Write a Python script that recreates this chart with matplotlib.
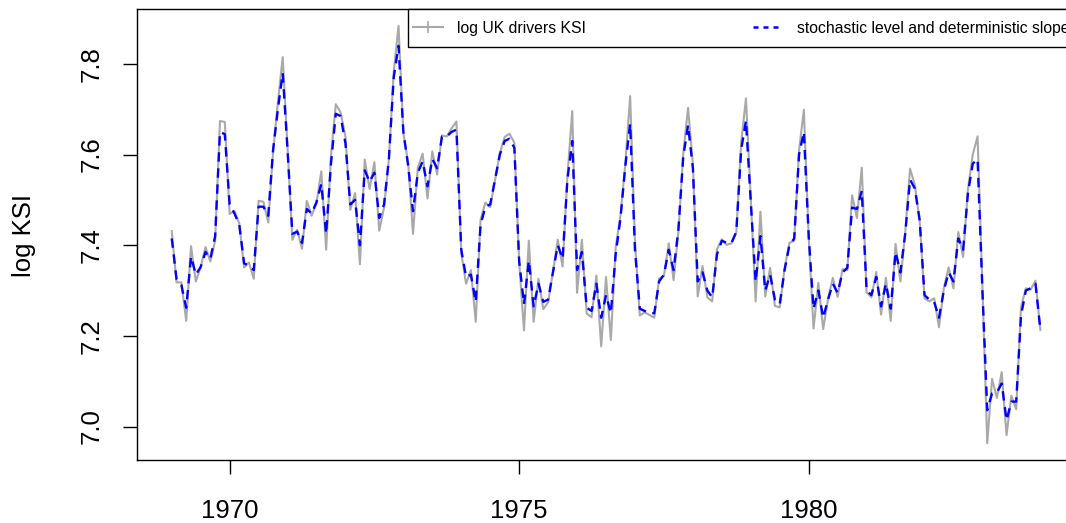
import numpy as np
import matplotlib.pyplot as plt
from matplotlib.lines import Line2D
from matplotlib.patches import Rectangle

plt.rcParams['font.family'] = ['Liberation Sans', 'DejaVu Sans']

# monthly series, Jan 1969 .. Jan 1984
start_year = 1969
log_ksi = [
    7.431, 7.318, 7.318, 7.233, 7.398, 7.320, 7.352, 7.396, 7.364, 7.410, 7.674, 7.672,
    7.469, 7.476, 7.448, 7.351, 7.362, 7.326, 7.498, 7.496, 7.450, 7.605, 7.715, 7.815,
    7.616, 7.412, 7.434, 7.392, 7.498, 7.465, 7.493, 7.563, 7.390, 7.597, 7.711, 7.693,
    7.640, 7.478, 7.515, 7.358, 7.589, 7.524, 7.583, 7.432, 7.483, 7.589, 7.782, 7.884,
    7.648, 7.582, 7.425, 7.571, 7.602, 7.503, 7.607, 7.556, 7.642, 7.640, 7.658, 7.673,
    7.383, 7.315, 7.345, 7.231, 7.456, 7.494, 7.484, 7.543, 7.603, 7.639, 7.646, 7.626,
    7.363, 7.212, 7.410, 7.231, 7.326, 7.259, 7.274, 7.341, 7.412, 7.353, 7.552, 7.696,
    7.295, 7.412, 7.249, 7.241, 7.333, 7.177, 7.330, 7.191, 7.395, 7.466, 7.580, 7.729,
    7.407, 7.245, 7.252, 7.246, 7.240, 7.326, 7.332, 7.404, 7.323, 7.429, 7.601, 7.703,
    7.579, 7.287, 7.354, 7.285, 7.276, 7.391, 7.413, 7.401, 7.404, 7.428, 7.626, 7.724,
    7.503, 7.276, 7.474, 7.287, 7.350, 7.266, 7.263, 7.349, 7.405, 7.410, 7.609, 7.699,
    7.418, 7.216, 7.317, 7.215, 7.281, 7.328, 7.286, 7.347, 7.345, 7.510, 7.460, 7.571,
    7.296, 7.285, 7.341, 7.247, 7.328, 7.233, 7.403, 7.320, 7.427, 7.569, 7.533, 7.454,
    7.283, 7.276, 7.283, 7.219, 7.305, 7.351, 7.305, 7.429, 7.374, 7.523, 7.600, 7.640,
    7.309, 6.963, 7.105, 7.063, 7.120, 6.981, 7.068, 7.038, 7.263, 7.305, 7.302, 7.322,
    7.213,
]
fitted = [
    7.415, 7.325, 7.312, 7.262, 7.375, 7.335, 7.352, 7.385, 7.370, 7.420, 7.650, 7.645,
    7.490, 7.470, 7.445, 7.360, 7.355, 7.345, 7.485, 7.485, 7.465, 7.610, 7.700, 7.780,
    7.610, 7.425, 7.430, 7.405, 7.480, 7.470, 7.495, 7.535, 7.425, 7.580, 7.690, 7.685,
    7.625, 7.490, 7.500, 7.400, 7.565, 7.540, 7.560, 7.460, 7.490, 7.590, 7.770, 7.840,
    7.650, 7.575, 7.475, 7.560, 7.585, 7.530, 7.590, 7.570, 7.640, 7.640, 7.650, 7.655,
    7.390, 7.330, 7.335, 7.275, 7.445, 7.485, 7.490, 7.545, 7.600, 7.630, 7.635, 7.615,
    7.365, 7.270, 7.366, 7.265, 7.315, 7.275, 7.280, 7.340, 7.400, 7.370, 7.545, 7.630,
    7.345, 7.385, 7.262, 7.255, 7.315, 7.240, 7.290, 7.250, 7.380, 7.460, 7.575, 7.668,
    7.390, 7.260, 7.255, 7.250, 7.250, 7.320, 7.335, 7.390, 7.345, 7.435, 7.595, 7.665,
    7.570, 7.320, 7.340, 7.300, 7.285, 7.380, 7.410, 7.405, 7.405, 7.430, 7.610, 7.675,
    7.495, 7.320, 7.420, 7.300, 7.335, 7.280, 7.270, 7.345, 7.400, 7.415, 7.600, 7.650,
    7.420, 7.260, 7.300, 7.240, 7.280, 7.315, 7.295, 7.340, 7.350, 7.483, 7.480, 7.520,
    7.300, 7.290, 7.330, 7.265, 7.315, 7.260, 7.385, 7.340, 7.425, 7.545, 7.525, 7.455,
    7.290, 7.280, 7.275, 7.240, 7.300, 7.340, 7.320, 7.415, 7.390, 7.515, 7.580, 7.590,
    7.300, 7.036, 7.073, 7.075, 7.095, 7.014, 7.055, 7.055, 7.245, 7.300, 7.305, 7.315,
    7.215,
]
labels = ['log UK drivers KSI', 'stochastic level and deterministic slope']

t = start_year + np.arange(len(log_ksi)) / 12.0

fig = plt.figure(figsize=(10.66, 5.23), dpi=100)
ax = fig.add_axes([0.1285, 0.1205, 0.880, 0.862])

ax.plot(t, log_ksi, color='darkgrey', lw=1.5)
ax.plot(t, fitted, color='blue', lw=1.7, linestyle=(0, (4, 2.8)))

# R style 4% padding
xr = t[-1] - t[0]
ax.set_xlim(t[0] - 0.04 * xr, t[-1] + 0.04 * xr)
lo, hi = min(log_ksi), max(log_ksi)
ax.set_ylim(lo - 0.04 * (hi - lo), hi + 0.04 * (hi - lo))

ax.set_xticks([1970, 1975, 1980])
ax.set_yticks([7.0, 7.2, 7.4, 7.6, 7.8])
ax.set_yticklabels(['7.0', '7.2', '7.4', '7.6', '7.8'], rotation=90, va='center')
ax.tick_params(axis='both', direction='out', length=10, width=1, labelsize=18.5)
ax.tick_params(axis='x', pad=18)
ax.tick_params(axis='y', pad=14)
for s in ax.spines.values():
    s.set_linewidth(1)

fig.text(24 / 1066, 0.55, 'log KSI', rotation=90, ha='center', va='center', fontsize=18.5)

# legend box (R style, top right, runs past the right edge)
ax.add_patch(Rectangle((0.2889, 0.9157), 0.72, 0.0843, transform=ax.transAxes,
                       facecolor='white', edgecolor='black', lw=1, zorder=3, clip_on=False))
handles = [
    Line2D([], [], color='darkgrey', lw=1.5, marker='+', markersize=8, markeredgewidth=1.2),
    Line2D([], [], color='blue', lw=1.8, linestyle=(0, (2, 2))),
]
leg = ax.legend(handles, labels, loc='center left', bbox_to_anchor=(0.2889, 0.9575),
                ncol=2, fontsize=11.3, frameon=False, borderaxespad=0,
                handlelength=1.9, handletextpad=0.9,
                columnspacing=10.6, borderpad=0.35, numpoints=1)
leg.set_zorder(4)

fig.savefig('out.png', dpi=100)
